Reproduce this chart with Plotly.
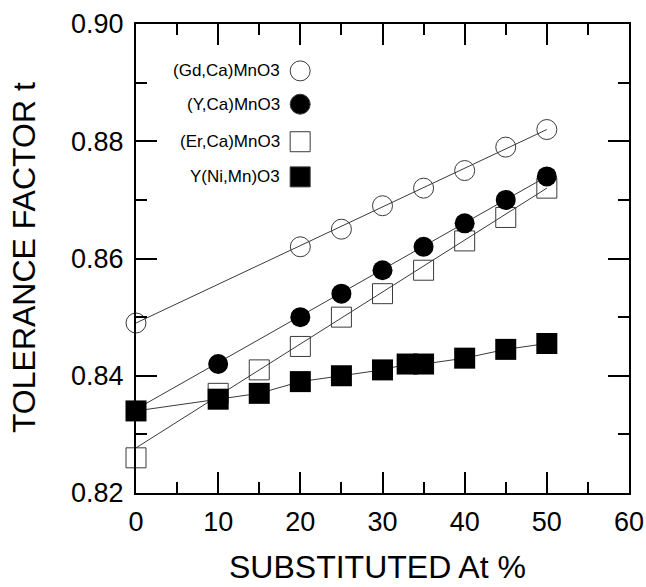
import plotly.graph_objects as go

# ---------------- data ----------------
gd_x = [0, 20, 25, 30, 35, 40, 45, 50]
gd_y = [0.849, 0.862, 0.865, 0.869, 0.872, 0.875, 0.879, 0.882]
gd_fit_x = [0, 50]
gd_fit_y = [0.849, 0.882]

yca_x = [0, 10, 20, 25, 30, 35, 40, 45, 50]
yca_y = [0.834, 0.842, 0.850, 0.854, 0.858, 0.862, 0.866, 0.870, 0.874]
yca_fit_x = [0, 50]
yca_fit_y = [0.8343, 0.8740]

er_x = [0, 10, 15, 20, 25, 30, 35, 40, 45, 50]
er_y = [0.826, 0.837, 0.841, 0.845, 0.850, 0.854, 0.858, 0.863, 0.867, 0.872]
er_fit_x = [0, 50]
er_fit_y = [0.8277, 0.8720]

ynm_x = [0, 10, 15, 20, 25, 30, 33, 35, 40, 45, 50]
ynm_y = [0.834, 0.836, 0.837, 0.839, 0.840, 0.841, 0.842, 0.842, 0.843, 0.8445, 0.8455]

legend_names = ["(Gd,Ca)MnO3", "(Y,Ca)MnO3", "(Er,Ca)MnO3", "Y(Ni,Mn)O3"]
legend_symbols = ["circle-open", "circle", "square-open", "square"]

x_title = "SUBSTITUTED At %"
y_title = "TOLERANCE FACTOR t"

# ---------------- style ----------------
FONT = "Liberation Sans, Arial, sans-serif"
LINE_C = "#3a3a3a"
MS = 20

fig = go.Figure()

def fit(xs, ys):
    fig.add_trace(go.Scatter(x=xs, y=ys, mode="lines",
                             line=dict(color=LINE_C, width=1),
                             showlegend=False, hoverinfo="skip", cliponaxis=False))

fit(gd_fit_x, gd_fit_y)
fit(er_fit_x, er_fit_y)
fit(yca_fit_x, yca_fit_y)

fig.add_trace(go.Scatter(x=ynm_x, y=ynm_y, mode="lines",
                         line=dict(color=LINE_C, width=1),
                         showlegend=False, cliponaxis=False))

fig.add_trace(go.Scatter(x=gd_x, y=gd_y, mode="markers", name=legend_names[0],
                         marker=dict(symbol="circle-open", size=MS, color=LINE_C,
                                     line=dict(width=1, color=LINE_C)),
                         showlegend=False, cliponaxis=False))
fig.add_trace(go.Scatter(x=er_x, y=er_y, mode="markers", name=legend_names[2],
                         marker=dict(symbol="square-open", size=MS, color=LINE_C,
                                     line=dict(width=1, color=LINE_C)),
                         showlegend=False, cliponaxis=False))
fig.add_trace(go.Scatter(x=yca_x, y=yca_y, mode="markers", name=legend_names[1],
                         marker=dict(symbol="circle", size=MS, color="black"),
                         showlegend=False, cliponaxis=False))
fig.add_trace(go.Scatter(x=ynm_x, y=ynm_y, mode="markers", name=legend_names[3],
                         marker=dict(symbol="square", size=MS + 1, color="black"),
                         showlegend=False, cliponaxis=False))

# custom legend (text left of symbol) on an overlay paper-like axis
leg_sym_x = 0.333
leg_txt_x = 0.296
leg_rows = [0.900, 0.829, 0.749, 0.674]
fig.add_trace(go.Scatter(
    x=[leg_sym_x] * 4, y=leg_rows, mode="markers", xaxis="x2", yaxis="y2",
    marker=dict(symbol=legend_symbols, size=MS,
                color=[LINE_C, "black", LINE_C, "black"],
                line=dict(width=1, color=LINE_C)),
    showlegend=False, hoverinfo="skip", cliponaxis=False))
for name, yy in zip(legend_names, leg_rows):
    fig.add_annotation(x=leg_txt_x, y=yy, xref="paper", yref="paper", text=name,
                       showarrow=False, xanchor="right", yanchor="middle",
                       font=dict(family=FONT, size=17, color="black"))

axis_common = dict(showline=True, linecolor="black", linewidth=2, mirror="ticks",
                   ticks="inside", ticklen=21, tickwidth=2, tickcolor="black",
                   showgrid=False, zeroline=False, automargin=False,
                   tickfont=dict(family=FONT, size=27, color="black"))

fig.update_layout(
    width=646, height=587,
    margin=dict(l=136, r=17, t=24, b=94),
    paper_bgcolor="white", plot_bgcolor="white",
    showlegend=False,
    xaxis=dict(range=[0, 60], dtick=10, tick0=0, ticklabelstandoff=4,
               minor=dict(dtick=5, ticks="inside", ticklen=11, tickwidth=2, tickcolor="black"),
               **axis_common),
    yaxis=dict(range=[0.82, 0.90], dtick=0.02, tick0=0.82, tickformat=".2f",
               ticklabelstandoff=5,
               minor=dict(dtick=0.01, ticks="inside", ticklen=11, tickwidth=2, tickcolor="black"),
               **axis_common),
    xaxis2=dict(overlaying="x", range=[0, 1], visible=False),
    yaxis2=dict(overlaying="y", range=[0, 1], visible=False),
)

fig.add_annotation(x=0.489, y=-0.157, xref="paper", yref="paper", text=x_title,
                   showarrow=False, xanchor="center", yanchor="middle",
                   font=dict(family=FONT, size=32, color="black"))
fig.add_annotation(x=-0.227, y=0.501, xref="paper", yref="paper", text=y_title,
                   showarrow=False, textangle=-90, xanchor="center", yanchor="middle",
                   font=dict(family=FONT, size=32, color="black"))

fig.write_html("out.html", config={"displayModeBar": False},
               post_script="document.body.style.margin='0';")
